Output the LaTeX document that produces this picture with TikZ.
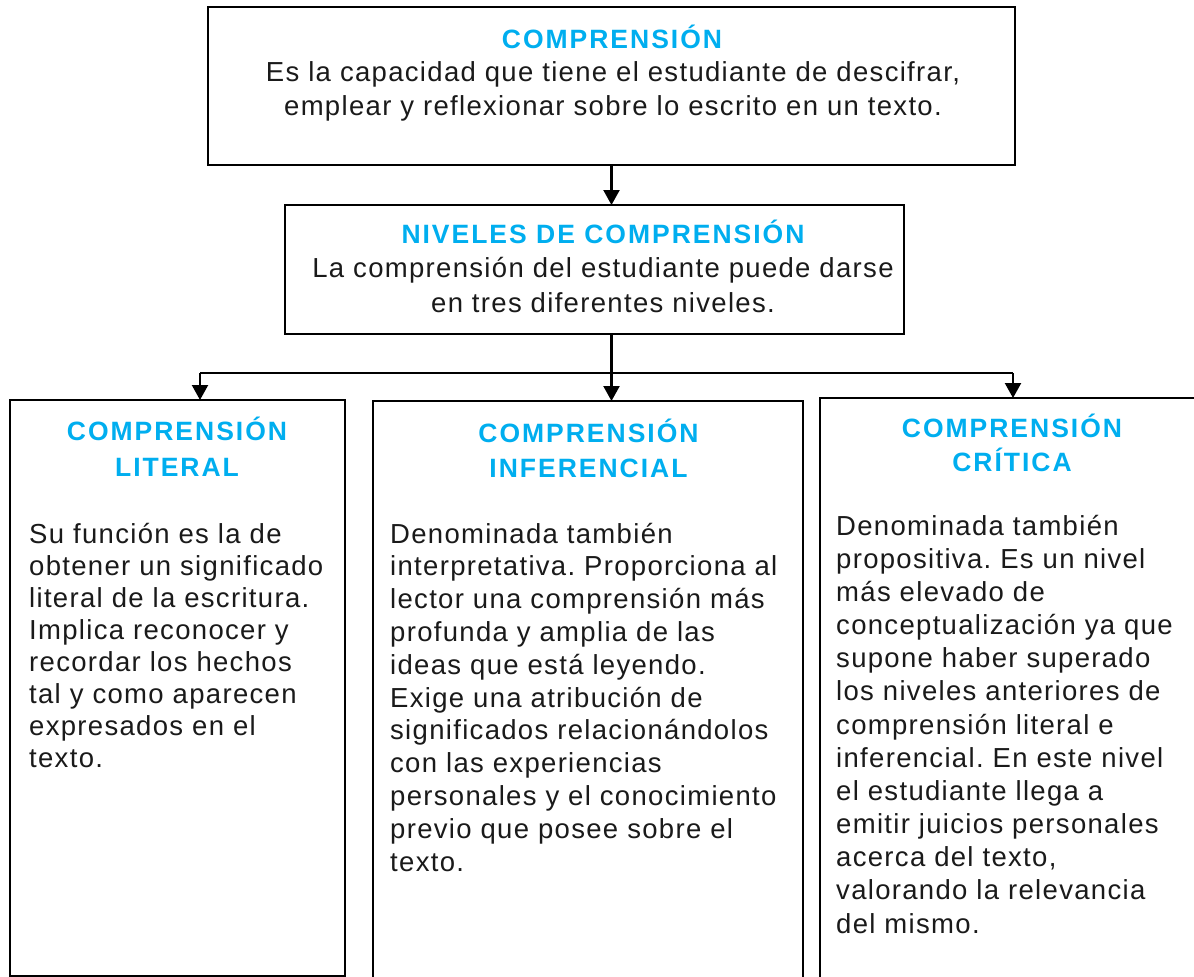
\documentclass[tikz,border=0pt]{standalone}
\usepackage{fontspec}
\setmainfont{Liberation Sans}
\newfontfamily\bodyfont[LetterSpace=4.8]{Liberation Sans}
\newfontfamily\headfont[LetterSpace=7.5]{Liberation Sans}
\usetikzlibrary{arrows.meta}
\definecolor{cyanT}{HTML}{00AEEF}
\definecolor{inkT}{HTML}{1A1A1A}
\frenchspacing
\begin{document}
\begin{tikzpicture}[x=1pt,y=-1pt,
  box/.style={draw=black,line width=2.2pt,rectangle,inner sep=0pt,outer sep=0pt},
  ttl/.style={font={\headfont\bfseries\fontsize{26.5}{#1}\selectfont},text=cyanT,align=center,inner sep=0pt,anchor=north},
  ctxt/.style={font={\bodyfont\fontsize{27.5}{#1}\selectfont},text=inkT,align=center,inner sep=0pt,anchor=north},
  ltxt/.style={font={\bodyfont\fontsize{27.5}{#1}\selectfont},text=inkT,align=left,inner sep=0pt,anchor=north west},
  link/.style={line width=2.2pt,-{Triangle[width=16pt,length=15pt]}},
  wire/.style={line width=2.2pt}]
\useasboundingbox (0,0) rectangle (1194,977);
\clip (0,0) rectangle (1194,977);
\fill[white] (0,0) rectangle (1194,977);

% boxes
\node[box,minimum width=807pt,minimum height=158pt] (top) at (611.5,86) {};
\node[box,minimum width=619pt,minimum height=129pt] (niv) at (594.5,269.5) {};
\node[box,minimum width=335pt,minimum height=576pt] (lit) at (177.5,688) {};
\node[box,minimum width=430pt,minimum height=594pt] (inf) at (588,698) {};
\node[box,minimum width=385pt,minimum height=597pt] (cri) at (1012.5,696.5) {};

% texts
\node[ttl=35] (topT) at (612,23.5) {\strut COMPRENSIÓN};
\node[ctxt=34] (topB) at (613,57.7) {\strut Es la capacidad que tiene el estudiante de descifrar,\\emplear y reflexionar sobre lo escrito en un texto.};
\node[ttl=35] (nivT) at (603,218.5) {\strut NIVELES DE COMPRENSIÓN};
\node[ctxt=35] (nivB) at (603,252.5) {\strut La comprensión del estudiante puede darse\\en tres diferentes niveles.};

\node[ttl=36] (litT) at (177,414.8) {\strut COMPRENSIÓN\\LITERAL};
\node[ttl=35] (infT) at (588.5,417.5) {\strut COMPRENSIÓN\\INFERENCIAL};
\node[ttl=34] (criT) at (1012,413.2) {\strut COMPRENSIÓN\\CRÍTICA};

\node[ltxt=32] (litB) at (29,520.6) {\strut Su función es la de\\obtener un significado\\literal de la escritura.\\Implica reconocer y\\recordar los hechos\\tal y como aparecen\\expresados en el\\texto.};
\node[ltxt=32.8] (infB) at (390,520) {\strut Denominada también\\interpretativa. Proporciona al\\lector una comprensión más\\profunda y amplia de las\\ideas que está leyendo.\\Exige una atribución de\\significados relacionándolos\\con las experiencias\\personales y el conocimiento\\previo que posee sobre el\\texto.};
\node[ltxt=33.15] (criB) at (836,511.8) {\strut Denominada también\\propositiva. Es un nivel\\más elevado de\\conceptualización ya que\\supone haber superado\\los niveles anteriores de\\comprensión literal e\\inferencial. En este nivel\\el estudiante llega a\\emitir juicios personales\\acerca del texto,\\valorando la relevancia\\del mismo.};

% connectors
\coordinate (jl) at (200,373);
\coordinate (jr) at (1013,373);
\draw[link] (top.south) -- (top.south |- niv.north);
\draw[link] (top.south |- niv.south) -- (top.south |- inf.north);
\draw[wire] (jl) -- (jr);
\draw[link] (jl) -- (jl |- lit.north);
\draw[link] (jr) -- (jr |- cri.north);
\end{tikzpicture}
\end{document}
